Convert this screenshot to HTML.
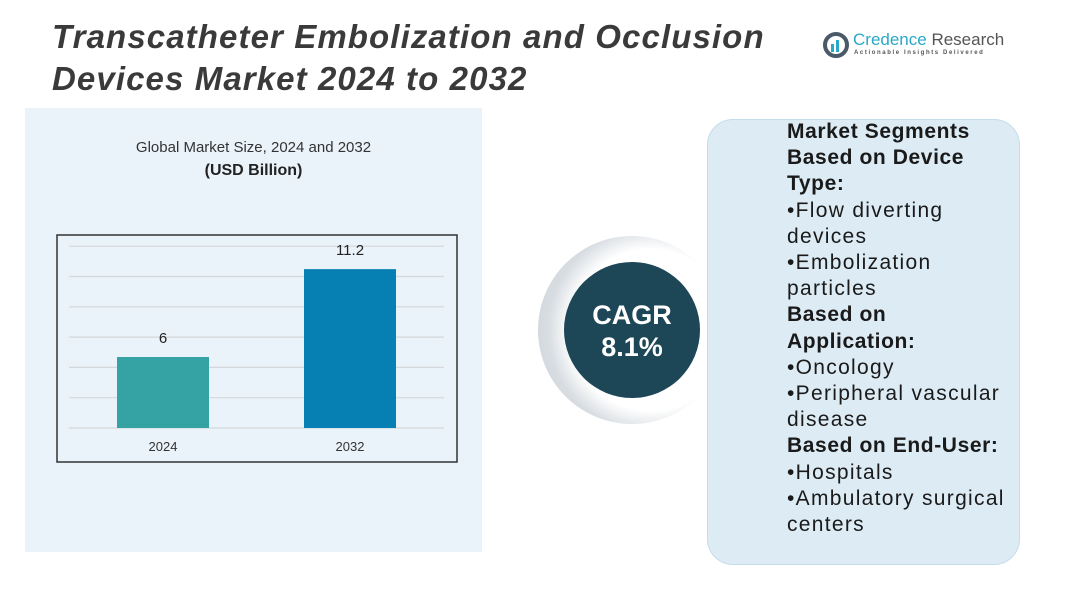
<!DOCTYPE html>
<html><head><meta charset="utf-8"><style>
body{margin:0;width:1081px;height:598px;overflow:hidden;background:#fff;font-family:"Liberation Sans",sans-serif;position:relative}
.abs{position:absolute}
.title{left:52px;top:16px;font-size:33px;font-weight:bold;font-style:italic;color:#3a3a3a;line-height:42px;letter-spacing:1.1px;white-space:nowrap}
.panel{left:707px;top:119px;width:311px;height:444px;border-radius:26px;background:#dcebf4;border:1px solid #c5dcea}
.seg{left:787px;top:119px;font-size:21px;line-height:26.2px;color:#1a1a1a;letter-spacing:1.3px;white-space:nowrap}
.seg b{font-weight:bold;letter-spacing:0.6px}
</style></head><body>
<div class="abs" style="left:25px;top:108px;width:457px;height:444px;background:#eaf3f9"></div>
<div class="abs title">Transcatheter Embolization and Occlusion<br>Devices Market 2024 to 2032</div>
<div class="abs" style="left:822px;top:30px;width:180px;height:30px">
<svg width="30" height="30" class="abs" style="left:0;top:0"><circle cx="14" cy="15" r="11" fill="none" stroke="#4a5a6a" stroke-width="4"/><rect x="9" y="14" width="3" height="8" fill="#2aa8c8"/><rect x="14" y="10" width="3" height="12" fill="#2aa8c8"/></svg>
<div class="abs" style="left:31px;top:0;font-size:17px;color:#2aa8c8;white-space:nowrap">Credence <span style="color:#555">Research</span></div>
<div class="abs" style="left:32px;top:20px;font-size:6px;letter-spacing:1.6px;color:#555;white-space:nowrap;font-weight:bold">Actionable Insights Delivered</div>
</div>
<div class="abs" style="left:25px;width:457px;top:139px;text-align:center;font-size:15px;color:#333">Global Market Size, 2024 and 2032</div>
<div class="abs" style="left:25px;width:457px;top:162px;text-align:center;font-size:16px;font-weight:bold;color:#222">(USD Billion)</div>
<svg class="abs" style="left:0;top:0" width="1081" height="598" id="chart">
<rect x="57" y="235" width="400" height="227" fill="none" stroke="#333" stroke-width="1.5"/>
</svg>
<div class="abs" style="left:538px;top:236px;width:188px;height:188px;border-radius:50%;background:radial-gradient(circle at 60% 50%,#fff 55%,#d8dde2 70%,#c5cdd4 100%)"></div>
<div class="abs" style="left:564px;top:262px;width:136px;height:136px;border-radius:50%;background:#1d4657;color:#fff;text-align:center;font-weight:bold;font-size:27px;line-height:32px;box-sizing:border-box;padding-top:37px">CAGR<br>8.1%</div>
<div class="abs panel"></div>
<div class="abs seg"><b>Market Segments<br>Based on Device<br>Type:</b><br>•Flow diverting<br>devices<br>•Embolization<br>particles<br><b>Based on<br>Application:</b><br>•Oncology<br>•Peripheral vascular<br>disease<br><b>Based on End-User:</b><br>•Hospitals<br>•Ambulatory surgical<br>centers</div>
<script>
const categories=["2024","2032"];
const values=[6,11.2];
const valueLabels=["6","11.2"];
const colors=["#35a3a3","#0680b2"];
const svg=document.getElementById('chart');
const NS="http://www.w3.org/2000/svg";
const base=428,vMin=1.8,pxPer=16.9;
function y(v){return base-(v-vMin)*pxPer;}
function x(i){return 117+i*187;}
const bw=92;
for(let g=0;g<7;g++){const l=document.createElementNS(NS,'line');
l.setAttribute('x1',69);l.setAttribute('x2',444);l.setAttribute('y1',base-g*30.3);l.setAttribute('y2',base-g*30.3);
l.setAttribute('stroke','#d4d8dc');l.setAttribute('stroke-width',1.2);


svg.appendChild(l);}
categories.forEach((c,i)=>{
const r=document.createElementNS(NS,'rect');
r.setAttribute('x',x(i));r.setAttribute('width',bw);r.setAttribute('y',y(values[i]));r.setAttribute('height',base-y(values[i]));r.setAttribute('fill',colors[i]);


svg.appendChild(r);
const t=document.createElementNS(NS,'text');
t.setAttribute('x',x(i)+bw/2);t.setAttribute('y',y(values[i])-14);t.setAttribute('text-anchor','middle');t.setAttribute('font-size','15');t.setAttribute('fill','#222');t.setAttribute('font-family','Liberation Sans, sans-serif');t.textContent=valueLabels[i];


svg.appendChild(t);
const xl=document.createElementNS(NS,'text');
xl.setAttribute('x',x(i)+bw/2);xl.setAttribute('y',451);xl.setAttribute('text-anchor','middle');xl.setAttribute('font-size','13');xl.setAttribute('fill','#333');xl.setAttribute('font-family','Liberation Sans, sans-serif');xl.textContent=c;


svg.appendChild(xl);
});
</script>
</body></html>
